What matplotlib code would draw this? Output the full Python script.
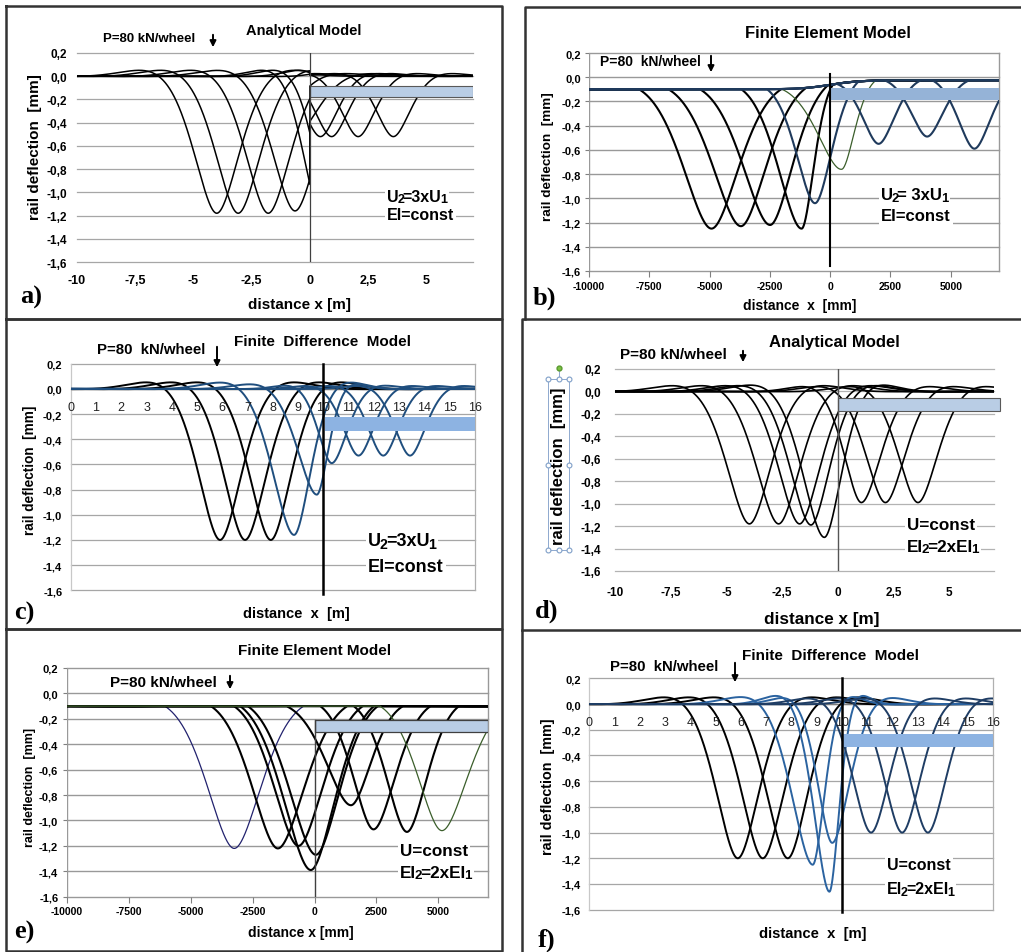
import numpy as np
import matplotlib.pyplot as plt
from matplotlib.patches import Rectangle, FancyArrowPatch
from matplotlib.lines import Line2D

plt.rcParams['font.family'] = ['Liberation Sans', 'DejaVu Sans']

W, H = 1021, 953

# ---------------- values ----------------
y_ticks = [0.2, 0.0, -0.2, -0.4, -0.6, -0.8, -1.0, -1.2, -1.4, -1.6]
y_labels = ['0,2', '0,0', '-0,2', '-0,4', '-0,6', '-0,8', '-1,0', '-1,2', '-1,4', '-1,6']
m_ticks = [-10, -7.5, -5, -2.5, 0, 2.5, 5]
m_labels = ['-10', '-7,5', '-5', '-2,5', '0', '2,5', '5']
mm_ticks = [-10000, -7500, -5000, -2500, 0, 2500, 5000]
mm_labels = ['-10000', '-7500', '-5000', '-2500', '0', '2500', '5000']
fd_ticks = list(range(17))

# a) analytical, U2=3xU1 : minimum position, minimum value, half widths
a_pos = [-4.0, -3.08, -1.79, -0.64, 0.45, 0.93, 2.07, 3.58]
a_min = [-1.18, -1.18, -1.18, -1.16, -0.52, -0.52, -0.52, -0.52]
a_wl = [2.5, 2.5, 2.5, 2.5, 1.9, 1.9, 1.9, 1.9]
a_wr = [2.5, 2.5, 2.5, 2.5, 1.9, 1.9, 1.9, 1.9]
a_jump = 0.44          # deflection ratio stiff / soft side

# b) finite element, U2=3xU1  (x in mm)
b_pos = [-4920, -3700, -2490, -1180, -620, 480, 2010, 4020, 5980]
b_min = [-1.25, -1.23, -1.22, -1.25, -1.04, -0.76, -0.55, -0.49, -0.59]
b_wl = [3000, 3000, 2900, 2500, 2000, 2500, 1750, 1750, 1750]
b_wr = [2900, 2700, 2400, 1300, 1800, 1400, 1750, 1750, 1750]
b_col = ['k', 'k', 'k', 'k', '#1f3a5c', '#3b5e2b', '#1f3a5c', '#1f3a5c', '#1f3a5c']
b_base = [-0.10, -0.025]

# c) finite difference, U2=3xU1
c_pos = [5.91, 6.90, 7.92, 8.84, 9.74, 10.33, 11.39, 12.37, 13.43]
c_min = [-1.20, -1.20, -1.20, -1.16, -0.84, -0.59, -0.53, -0.53, -0.53]
c_wl = [2.2, 2.2, 2.2, 2.2, 2.0, 1.4, 1.6, 1.6, 1.6]
c_wr = [2.2, 2.2, 2.1, 1.7, 1.2, 1.6, 1.6, 1.6, 1.6]
c_col = ['k', 'k', 'k'] + ['#1f4e7e'] * 6

# d) analytical, EI2=2xEI1
d_pos = [-3.97, -2.66, -1.72, -1.21, -0.61, 1.05, 2.13, 3.59]
d_min = [-1.18, -1.18, -1.18, -1.19, -1.30, -0.99, -0.99, -0.99]
d_wl = [2.6, 2.6, 2.5, 2.45, 2.5, 2.0, 2.3, 2.3]
d_wr = [2.5, 2.5, 2.4, 2.2, 2.0, 2.3, 2.3, 2.3]

# e) finite element, EI2=2xEI1  (x in mm)
e_pos = [-3240, -1480, -650, -150, 55, 1470, 2380, 3730, 5140]
e_min = [-1.22, -1.22, -1.20, -1.39, -1.27, -0.88, -1.07, -1.09, -1.08]
e_wl = [2800, 2700, 2600, 2850, 2750, 2600, 2150, 2150, 2500]
e_wr = [2800, 2800, 2600, 2550, 2500, 2100, 2300, 2100, 2700]
e_col = ['#22226e', 'k', 'k', 'k', 'k', 'k', 'k', 'k', '#3b5e2b']
e_base = -0.10

# f) finite difference, EI2=2xEI1
f_pos = [5.88, 6.87, 7.86, 8.85, 9.51, 9.62, 11.16, 12.39, 13.41]
f_min = [-1.20, -1.20, -1.20, -1.25, -1.46, -1.08, -1.00, -1.00, -1.00]
f_wl = [2.2, 2.2, 2.2, 2.15, 1.6, 1.5, 1.9, 1.9, 1.9]
f_wr = [2.2, 2.2, 2.1, 1.2, 1.0, 1.8, 1.9, 1.9, 1.9]
f_col = ['k', 'k', 'k', '#2b63a0', '#2b63a0', '#2b63a0', '#1f3d64', '#1f3d64', '#1f3d64']

K = 3 * np.pi / 4   # beam-on-foundation profile returns to baseline at u = 3pi/4


def deflection(x, right, p, ymin, wl, wr, base, jump=1.0, clip=False):
    u = np.where(x < p, (p - x) / wl, (x - p) / wr) * K
    g = np.exp(-u) * (np.cos(u) + np.sin(u))
    if clip:
        g = np.clip(g, 0, None)
    w = (ymin - base(p)) * g
    if jump != 1.0:
        other = right != (p >= 0)
        w = np.where(other, w * (jump if p < 0 else 1 / jump), w)
    return base(x) + w


fig = plt.figure(figsize=(W / 100, H / 100), dpi=100)
renderer = fig.canvas.get_renderer()


def fx(x):
    return x / W


def fy(y):
    return 1 - y / H


def axes_px(x0, y0, x1, y1, xlim):
    ax = fig.add_axes([fx(x0), fy(y1), (x1 - x0) / W, (y1 - y0) / H])
    ax.set_xlim(xlim)
    ax.set_ylim(-1.6, 0.2)
    ax.patch.set_alpha(0)
    for s in ax.spines.values():
        s.set_visible(False)
    return ax


def ftext(x, y, s, size, ha='center', weight='bold', **kw):
    return fig.text(fx(x), fy(y), s, fontsize=size, ha=ha, va='center', fontweight=weight, **kw)


def sub_text(x, y, parts, size):
    # bold text with subscripts, drawn run by run: white boxes first, then the text
    x0 = x
    for layer in (0, 1):
        x = x0
        for s, sub in parts:
            fs = size * 0.78 if sub else size
            yy = y + (size * 0.22 if sub else 0)
            if layer == 0:
                t = fig.text(fx(x), fy(yy), s, fontsize=fs, fontweight='bold', ha='left', va='center',
                             color='white', zorder=5, bbox=dict(fc='white', ec='none', pad=1.5))
            else:
                t = fig.text(fx(x), fy(yy), s, fontsize=fs, fontweight='bold', ha='left', va='center',
                             color='black', zorder=6)
            x += t.get_window_extent(renderer).width - 1.5


def arrow(x, y0, y1):
    fig.add_artist(FancyArrowPatch((fx(x), fy(y0)), (fx(x), fy(y1)), transform=fig.transFigure,
                                   arrowstyle='-|>', mutation_scale=9, lw=1.4, color='k'))


def fline(xs, ys, lw=1.8, color='#333333'):
    fig.add_artist(Line2D([fx(v) for v in xs], [fy(v) for v in ys], transform=fig.transFigure,
                          lw=lw, color=color))


def grid(ax, x0, x1, color='#a6a6a6', lw=0.9):
    for yv in y_ticks:
        ax.plot([x0, x1], [yv, yv], color=color, lw=lw, zorder=1, clip_on=False)


def yticks(ax, size, pad, length=0):
    ax.set_yticks(y_ticks)
    ax.set_yticklabels(y_labels, fontsize=size, fontweight='bold')
    ax.tick_params(axis='y', length=length, pad=pad, color='#808080')


def xticks(ax, ticks, labels, size, pad, length=0):
    ax.set_xticks(ticks)
    ax.set_xticklabels(labels, fontsize=size, fontweight='bold')
    ax.tick_params(axis='x', length=length, pad=pad, color='#808080')


def fd_axis(ax):
    ax.set_xticks([])
    ax.plot([0, 16], [0, 0], color='#7f7f7f', lw=1.0, zorder=1)
    for t in fd_ticks:
        ax.text(t, -0.14, str(t), ha='center', va='center', fontsize=9, color='#222222', zorder=6)
    ax.plot([16, 16], [-1.6, 0.2], color='#b0b0b0', lw=0.9, clip_on=False)
    ax.plot([0, 0], [-1.6, 0.2], color='#c8c8c8', lw=0.9, clip_on=False)


def uniform(v):
    return lambda x: v + 0 * np.asarray(x, dtype=float)


# ---------------- a) ----------------
ax = axes_px(77, 54, 473, 263, (-10, 7))
grid(ax, -10, 7)
xa = np.concatenate([np.linspace(-10, 0, 1200), np.linspace(0, 7, 900)])
ra = np.concatenate([np.zeros(1200, bool), np.ones(900, bool)])
for p, m, wl, wr in zip(a_pos, a_min, a_wl, a_wr):
    ax.plot(xa, deflection(xa, ra, p, m, wl, wr, uniform(0.0), jump=a_jump), color='k', lw=1.1, zorder=2)
ax.add_patch(Rectangle((0, -0.18), 7, 0.095, fc='#b9cde5', ec='#595959', lw=0.8, zorder=3))
ax.plot([0, 0], [-1.6, 0.2], color='#404040', lw=0.9, zorder=4)
yticks(ax, 8.5, 7)
xticks(ax, m_ticks, m_labels, 9, 9)

# ---------------- b) ----------------
ax = axes_px(589, 54, 999, 272, (-10000, 7000))
grid(ax, -10000, 7000, '#999999', 1.0)
ax.plot([-10000, -10000], [-1.6, 0.2], color='#999999', lw=1.0)
ax.plot([7000, 7000], [-1.6, 0.2], color='#999999', lw=1.0, clip_on=False)
base_b = lambda x: b_base[0] + (b_base[1] - b_base[0]) * 0.5 * (1 + np.tanh(np.asarray(x) / 1200.0))
xb = np.linspace(-10000, 7000, 2400)
for p, m, wl, wr, c in zip(b_pos, b_min, b_wl, b_wr, b_col):
    lw = 0.9 if c == '#3b5e2b' else 1.5
    ax.plot(xb, deflection(xb, xb >= 0, p, m, wl, wr, base_b, clip=True), color=c, lw=lw, zorder=2)
ax.add_patch(Rectangle((0, -0.192), 7000, 0.102, fc='#95b3d7', ec='none', zorder=3))
ax.plot([0, 0], [-1.56, 0.03], color='k', lw=1.5, zorder=4)
yticks(ax, 8, 3, 3)
xticks(ax, mm_ticks, mm_labels, 7.5, 3, 4)

# ---------------- c) ----------------
ax = axes_px(70.7, 364.7, 475, 591.3, (0, 16))
grid(ax, 0, 16)
fd_axis(ax)
xc = np.linspace(0, 16, 2000)
for p, m, wl, wr, c in zip(c_pos, c_min, c_wl, c_wr, c_col):
    ax.plot(xc, deflection(xc, xc >= 10, p, m, wl, wr, uniform(0.0)), color=c, lw=1.4, zorder=2)
ax.add_patch(Rectangle((10.07, -0.337), 5.93, 0.114, fc='#8db3e2', ec='none', zorder=3))
ax.plot([10, 10], [-1.63, 0.2], color='k', lw=1.8, zorder=4, clip_on=False)
yticks(ax, 8, 6)

# ---------------- d) ----------------
ax = axes_px(615, 370, 994, 572, (-10, 7))
grid(ax, -10, 7, '#b3b3b3')
xd = np.linspace(-10, 7, 2000)
for p, m, wl, wr in zip(d_pos, d_min, d_wl, d_wr):
    ax.plot(xd, deflection(xd, xd >= 0, p, m, wl, wr, uniform(0.0)), color='k', lw=1.2, zorder=2)
ax.add_patch(Rectangle((0, -0.175), 7.25, 0.12, fc='#b9cde5', ec='#595959', lw=0.8, zorder=3, clip_on=False))
ax.plot([0, 0], [-1.6, 0.2], color='#555555', lw=1.0, zorder=4)
yticks(ax, 8.5, 10)
xticks(ax, m_ticks, m_labels, 8.5, 11)

# ---------------- e) ----------------
ax = axes_px(66.7, 669, 488, 897.7, (-10000, 7000))
grid(ax, -10000, 7000, '#999999', 1.0)
ax.plot([-10000, -10000], [-1.6, 0.2], color='#999999', lw=1.0)
ax.plot([7000, 7000], [-1.6, 0.2], color='#999999', lw=1.0, clip_on=False)
xe = np.linspace(-10000, 7000, 2400)
for p, m, wl, wr, c in zip(e_pos, e_min, e_wl, e_wr, e_col):
    lw = 0.9 if c != 'k' else 1.5
    ax.plot(xe, deflection(xe, xe >= 0, p, m, wl, wr, uniform(e_base), clip=True), color=c, lw=lw, zorder=2)
ax.add_patch(Rectangle((0, -0.307), 7000, 0.1, fc='#b9cde5', ec='#404040', lw=0.9, zorder=3))
ax.plot([0, 0], [-1.6, -0.207], color='#404040', lw=1.0, zorder=4)
yticks(ax, 8, 3, 3)
xticks(ax, mm_ticks, mm_labels, 7.5, 3, 4)

# ---------------- f) ----------------
ax = axes_px(589.3, 679.3, 993.3, 910.7, (0, 16))
grid(ax, 0, 16)
fd_axis(ax)
xf = np.linspace(0, 16, 2000)
for p, m, wl, wr, c in zip(f_pos, f_min, f_wl, f_wr, f_col):
    ax.plot(xf, deflection(xf, xf >= 10, p, m, wl, wr, uniform(0.0)), color=c, lw=1.4, zorder=2)
ax.add_patch(Rectangle((10.05, -0.337), 5.95, 0.104, fc='#8db3e2', ec='none', zorder=3))
ax.plot([10, 10], [-1.62, 0.2], color='k', lw=1.8, zorder=4, clip_on=False)
yticks(ax, 8, 6)

# ---------------- texts ----------------
wbox = dict(fc='white', ec='none', pad=1.5)
u3 = [('U', False), ('2', True), ('=3xU', False), ('1', True)]
u3b = [('U', False), ('2', True), ('= 3xU', False), ('1', True)]
ei2 = [('EI', False), ('2', True), ('=2xEI', False), ('1', True)]

ftext(304, 31, 'Analytical Model', 10.5)
ftext(103, 39, 'P=80 kN/wheel', 9.5, ha='left')
arrow(213, 33, 51)
ftext(35, 147, 'rail deflection  [mm]', 11, rotation=90)
ftext(300, 305, 'distance x [m]', 11)
sub_text(387, 197, u3, 11.5)
ftext(387, 216, 'EI=const', 11.5, ha='left', bbox=wbox, zorder=6)

ftext(828, 33, 'Finite Element Model', 12)
ftext(600, 62, 'P=80  kN/wheel', 10, ha='left')
arrow(711, 54, 76)
ftext(548, 157, 'rail deflection  [mm]', 9.7, rotation=90)
ftext(800, 306, 'distance  x  [mm]', 10)
sub_text(881, 196, u3b, 12)
ftext(881, 217, 'EI=const', 12, ha='left', bbox=wbox, zorder=6)

ftext(322, 342, 'Finite  Difference  Model', 11)
ftext(97, 350, 'P=80  kN/wheel', 10.8, ha='left')
arrow(217, 345, 371)
ftext(30, 470, 'rail deflection  [mm]', 9.8, rotation=90)
ftext(296, 614, 'distance  x  [m]', 10.5)
sub_text(368, 542, u3, 13)
ftext(368, 568, 'EI=const', 13, ha='left', bbox=wbox, zorder=6)

ftext(834, 343, 'Analytical Model', 12)
ftext(620, 355, 'P=80 kN/wheel', 11, ha='left')
arrow(743, 349, 366)
ftext(558, 466, 'rail deflection  [mm]', 12, rotation=90)
ftext(822, 620, 'distance x [m]', 12.3)
ftext(907, 525, 'U=const', 12.3, ha='left', bbox=wbox, zorder=6)
sub_text(907, 547, ei2, 12.3)

ftext(315, 651, 'Finite Element Model', 11)
ftext(110, 683, 'P=80 kN/wheel', 11, ha='left')
arrow(230, 674, 693)
ftext(30, 787, 'rail deflection  [mm]', 9, rotation=90)
ftext(301, 933, 'distance x [mm]', 10)
ftext(400, 852, 'U=const', 12.3, ha='left', bbox=wbox, zorder=6)
sub_text(400, 873, ei2, 12.3)

ftext(830, 656, 'Finite  Difference  Model', 11)
ftext(610, 667, 'P=80  kN/wheel', 10.8, ha='left')
arrow(735, 661, 686)
ftext(548, 787, 'rail deflection  [mm]', 10.4, rotation=90)
ftext(813, 934, 'distance  x  [m]', 10.6)
ftext(887, 866, 'U=const', 11.5, ha='left', bbox=wbox, zorder=6)
sub_text(887, 890, ei2, 11.5)

for s, x, y in [('a)', 20, 297), ('b)', 533, 298), ('c)', 14, 613),
                ('d)', 535, 611), ('e)', 14, 932), ('f)', 538, 940)]:
    fig.text(fx(x), fy(y), s, fontsize=19, fontweight='bold', family='Liberation Serif',
             ha='left', va='center')

# selection handles around the y label of d)
fline([548, 569, 569, 548, 548], [380, 380, 551, 551, 380], lw=0.7, color='#8ea9cf')
fline([558.5, 558.5], [369, 380], lw=0.7, color='#8ea9cf')
hx = [548, 558.5, 569, 548, 569, 548, 558.5, 569]
hy = [380, 380, 380, 466, 466, 551, 551, 551]
fig.add_artist(Line2D([fx(v) for v in hx], [fy(v) for v in hy], transform=fig.transFigure, ls='none',
                      marker='o', ms=3.5, mfc='white', mec='#7f9fc8', mew=0.8))
fig.add_artist(Line2D([fx(558.5)], [fy(369)], transform=fig.transFigure, ls='none',
                      marker='o', ms=3.5, mfc='#7cc242', mec='#5a9a30'))

# panel frames
fline([6, 502, 502, 6, 6], [7, 7, 320, 320, 7])
fline([6, 502, 502, 6, 6], [320, 320, 630, 630, 320])
fline([6, 502, 502, 6, 6], [630, 630, 952, 952, 630])
fline([525, 525, 1021], [320, 8, 8])
fline([522, 522, 1021], [631, 320, 320])
fline([522, 1021], [631, 631])
fline([522, 522], [953, 632])

fig.savefig('out.png', dpi=100)
